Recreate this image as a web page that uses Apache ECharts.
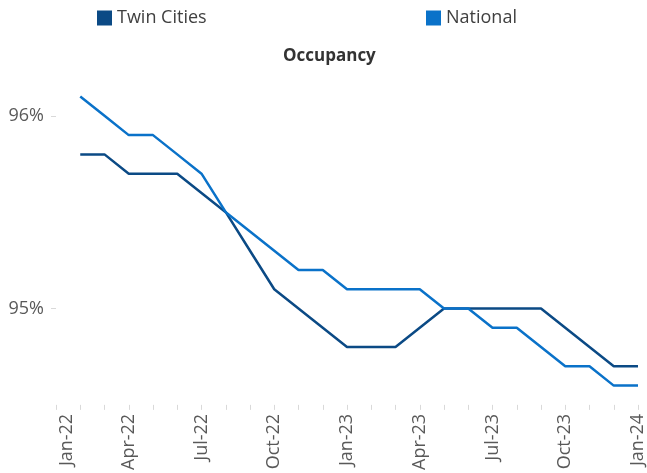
<!DOCTYPE html>
<html>
<head>
<meta charset="utf-8">
<script src="https://cdn.jsdelivr.net/npm/echarts@6/dist/echarts.min.js"></script>
<style>
  html, body { margin: 0; padding: 0; background: #fff; }
  #main { width: 647px; height: 473px; }
</style>
</head>
<body>
<div id="main"></div>
<script>
// months Jan-22 .. Jan-24, first month has no data
var months = ['Jan-22', 'Feb-22', 'Mar-22', 'Apr-22', 'May-22', 'Jun-22', 'Jul-22', 'Aug-22', 'Sep-22', 'Oct-22', 'Nov-22', 'Dec-22',
  'Jan-23', 'Feb-23', 'Mar-23', 'Apr-23', 'May-23', 'Jun-23', 'Jul-23', 'Aug-23', 'Sep-23', 'Oct-23', 'Nov-23', 'Dec-23', 'Jan-24'];

var twinCities = [null, 95.8, 95.8, 95.7, 95.7, 95.7, 95.6, 95.5, 95.3, 95.1, 95.0, 94.9,
  94.8, 94.8, 94.8, 94.9, 95.0, 95.0, 95.0, 95.0, 95.0, 94.9, 94.8, 94.7, 94.7];

var national = [null, 96.1, 96.0, 95.9, 95.9, 95.8, 95.7, 95.5, 95.4, 95.3, 95.2, 95.2,
  95.1, 95.1, 95.1, 95.1, 95.0, 95.0, 94.9, 94.9, 94.8, 94.7, 94.7, 94.6, 94.6];

var yTicks = [95, 96];

var font = '"Open Sans", "Noto Sans", sans-serif';
var tcColor = '#0b4a85';
var natColor = '#0a72c9';

var myChart = echarts.init(document.getElementById('main'));

var option = {
  animation: false,
  title: {
    text: 'Occupancy',
    left: 283,
    top: 48,
    padding: 0,
    textStyle: { fontFamily: font, fontSize: 17, fontWeight: 'bold', color: '#333333' }
  },
  legend: [
    {
      data: ['Twin Cities'],
      left: 97,
      top: 9,
      padding: 0,
      icon: 'rect',
      itemWidth: 15,
      itemHeight: 15,
      textStyle: { fontFamily: font, fontSize: 18, color: '#404040' }
    },
    {
      data: ['National'],
      left: 426,
      top: 9,
      padding: 0,
      icon: 'rect',
      itemWidth: 15,
      itemHeight: 15,
      textStyle: { fontFamily: font, fontSize: 18, color: '#404040' }
    }
  ],
  grid: {
    left: 56,
    right: 9,
    top: 19.5,
    bottom: 63.5,
    containLabel: false
  },
  xAxis: {
    type: 'category',
    data: months,
    boundaryGap: false,
    axisLine: { show: false },
    axisTick: {
      show: true,
      interval: 0,
      length: 5,
      lineStyle: { color: '#d9d9d9' }
    },
    axisLabel: {
      interval: 2,
      rotate: 90,
      margin: 9,
      fontFamily: font,
      fontSize: 18,
      color: '#595959',
      formatter: function (v, i) {
        return i === 0 ? '{first|' + v + '}' : v;
      },
      rich: {
        first: { fontFamily: font, fontSize: 18, color: '#595959', padding: [22, 0, 0, 0] }
      }
    },
    splitLine: { show: false }
  },
  yAxis: {
    type: 'value',
    min: 94.5,
    max: 96.5,
    axisLine: { show: false },
    axisTick: {
      show: true,
      length: 5,
      customValues: yTicks,
      lineStyle: { color: '#d9d9d9' }
    },
    axisLabel: {
      customValues: yTicks,
      margin: 12,
      fontFamily: font,
      fontSize: 18,
      color: '#595959',
      formatter: function (v) { return Math.round(v) + '%'; }
    },
    splitLine: { show: false }
  },
  series: [
    {
      name: 'Twin Cities',
      type: 'line',
      data: twinCities,
      symbol: 'none',
      color: tcColor,
      lineStyle: { width: 2.5, color: tcColor }
    },
    {
      name: 'National',
      type: 'line',
      data: national,
      symbol: 'none',
      color: natColor,
      lineStyle: { width: 2.5, color: natColor }
    }
  ]
};

option && myChart.setOption(option);
</script>
</body>
</html>
